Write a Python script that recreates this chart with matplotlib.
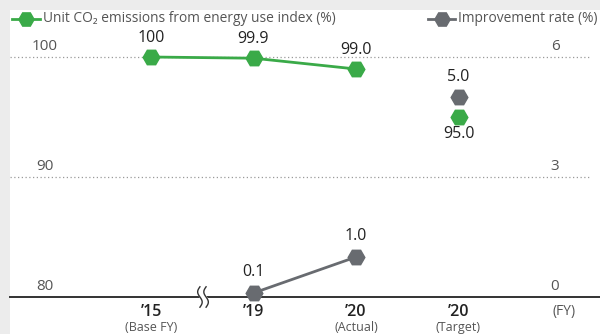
import matplotlib
matplotlib.use('Agg')
import matplotlib.pyplot as plt
import numpy as np
from matplotlib.lines import Line2D
from matplotlib.patches import Rectangle

# ---- data ----
years = ["’15", "’19", "’20", "’20"]
year_notes = ["(Base FY)", "", "(Actual)", "(Target)"]
index_x = [0, 1, 2]
index_actual = [100, 99.9, 99.0]
index_target = 95.0
improve_x = [1, 2]
improve_actual = [0.1, 1.0]
improve_target = 5.0
target_x = 3
left_ticks = [80, 90, 100]
right_ticks = [0, 3, 6]
legend_labels = ["Unit CO₂ emissions from energy use index (%)", "Improvement rate (%)"]

plt.rcParams['font.family'] = ['Open Sans', 'DejaVu Sans']

GREEN = '#3aaa48'
GRAY = '#686b70'
TXT = '#555555'
W, H = 600, 334
PXU = 102.5  # pixels per category step

fig = plt.figure(figsize=(6, 3.34), dpi=100, facecolor='#ececec')
fig.add_artist(Rectangle((10 / W, 0), 1, (H - 10) / H, transform=fig.transFigure,
                         facecolor='white', edgecolor='none', zorder=0))

ax = fig.add_axes([10 / W, (H - 297) / H, 590 / W, 270 / H])
ax.set_xlim(-141 / PXU, 449 / PXU)
ax.set_ylim(80, 80 + 270 / 12)
ax.axis('off')
ax2 = ax.twinx()
ax2.set_ylim(0, 270 / 40)
ax2.axis('off')
ax2.set_xlim(ax.get_xlim())

# grid lines
for v in left_ticks[1:]:
    ax.axhline(v, xmin=0, xmax=580 / 590, ls=(0, (1, 2)), color='#9a9a9a', lw=0.9, zorder=1)
ax.axhline(80, xmin=0, xmax=1, color='#333333', lw=1.4, zorder=2, clip_on=False)

# axis break symbol
xb = (203 - 151) / PXU
t = np.linspace(-1, 1, 60)
yy = 80 - t * 0.85
x1 = xb - 0.03 + 0.022 * np.sin(np.pi * t)
x2 = xb + 0.03 + 0.022 * np.sin(np.pi * t)
ax.fill_betweenx(yy, x1, x2, color='white', zorder=3, clip_on=False)
ax.plot(x1, yy, color='#333333', lw=1.0, zorder=4, clip_on=False)
ax.plot(x2, yy, color='#333333', lw=1.0, zorder=4, clip_on=False)

# series
mk = dict(marker='H', ms=12, clip_on=False)
ax.plot(index_x, index_actual, color=GREEN, lw=2.0, mfc=GREEN, mec=GREEN, zorder=6, **mk)
ax.plot([target_x], [index_target], color=GREEN, lw=0, mfc=GREEN, mec=GREEN, zorder=6, **mk)
ax2.plot(improve_x, improve_actual, color=GRAY, lw=2.0, mfc=GRAY, mec=GRAY, zorder=6, **mk)
ax2.plot([target_x], [improve_target], color=GRAY, lw=0, mfc=GRAY, mec=GRAY, zorder=6, **mk)

# data labels
lab = dict(textcoords='offset points', ha='center', va='center', fontsize=11.5,
           color='#222222', annotation_clip=False, fontweight='medium')
for x, v in zip(index_x, index_actual):
    s = f"{v:.0f}" if v == 100 else f"{v:.1f}"
    ax.annotate(s, (x, v), xytext=(0, 13.5), **lab)
ax.annotate(f"{index_target:.1f}", (target_x, index_target), xytext=(0, -12.5), **lab)
for x, v in zip(improve_x, improve_actual):
    ax2.annotate(f"{v:.1f}", (x, v), xytext=(0, 15), **lab)
ax2.annotate(f"{improve_target:.1f}", (target_x, improve_target), xytext=(0, 14.5), **lab)

# y tick labels
xl = (45 - 151) / PXU
xr = (555 - 151) / PXU
for v in left_ticks:
    ax.text(xl, v + 11 / 12, str(v), ha='center', va='center', fontsize=11, color=TXT)
for v in right_ticks:
    ax2.text(xr, v + 11 / 40, str(v), ha='center', va='center', fontsize=11, color=TXT)

# x labels
for i, (yl, note) in enumerate(zip(years, year_notes)):
    ax.text(i, 80 - 15 / 12, yl, ha='center', va='center', fontsize=11.5,
            color='#222222', fontweight='semibold', clip_on=False)
    if note:
        ax.text(i, 80 - 30 / 12, note, ha='center', va='center', fontsize=9,
                color=TXT, clip_on=False)
ax.text((564 - 151) / PXU, 80 - 14 / 12, "(FY)", ha='center', va='center',
        fontsize=10, color=TXT, clip_on=False)

# legends (drawn manually)
ly = 1 - 19 / H
for (xa, xbb, col, label, fs) in [(12, 40, GREEN, legend_labels[0], 9.9),
                                  (428, 455, GRAY, legend_labels[1], 9.9)]:
    fig.add_artist(Line2D([xa / W, xbb / W], [ly, ly], transform=fig.transFigure,
                          color=col, lw=2, zorder=5))
    fig.add_artist(Line2D([(xa + xbb) / 2 / W], [ly], transform=fig.transFigure,
                          color=col, lw=0, marker='H', ms=11, mfc=col, mec=col, zorder=6))
    fig.text((xbb + 3) / W, ly, label, ha='left', va='center', fontsize=fs, color=TXT)

fig.savefig('out.png', dpi=100, facecolor=fig.get_facecolor())
